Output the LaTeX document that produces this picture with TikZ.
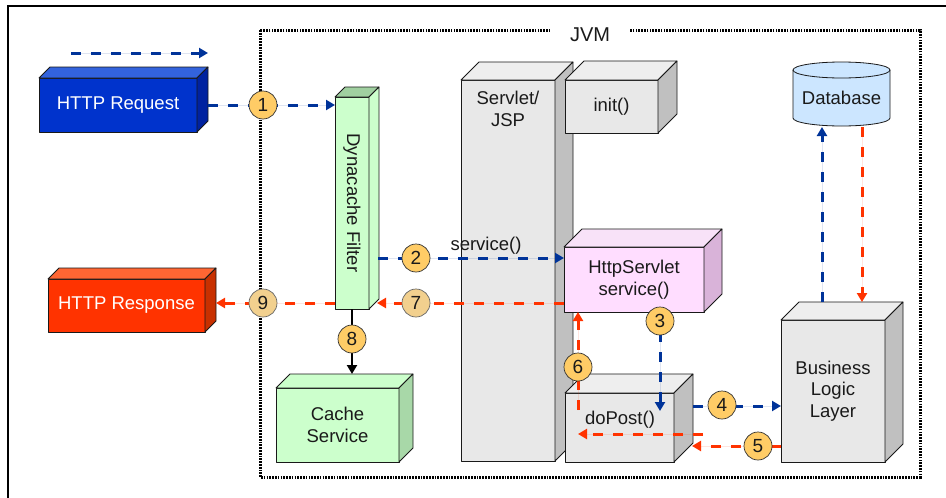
\documentclass[tikz,border=0pt]{standalone}
\usepackage{fontspec}
\setmainfont{Liberation Sans}
\usetikzlibrary{arrows.meta,calc}

\definecolor{txt}{HTML}{1A1A1A}
\definecolor{flowblue}{HTML}{003399}
\definecolor{flowred}{HTML}{FF3300}
\definecolor{numfill}{HTML}{FFCC66}
\definecolor{numpale}{HTML}{F2D08E}
\definecolor{reqfront}{HTML}{0033CC}
\definecolor{reqtop}{HTML}{3363DD}
\definecolor{reqside}{HTML}{0022A0}
\definecolor{resfront}{HTML}{FF3300}
\definecolor{restop}{HTML}{FF6633}
\definecolor{resside}{HTML}{C83000}
\definecolor{grnfront}{HTML}{CCFFCC}
\definecolor{grntop}{HTML}{A0D0A0}
\definecolor{grnside}{HTML}{A8D8A8}
\definecolor{gryfront}{HTML}{E8E8E8}
\definecolor{grytop}{HTML}{EEEEEE}
\definecolor{gryside}{HTML}{C0C0C0}
\definecolor{pnkfront}{HTML}{FFDDFF}
\definecolor{pnktop}{HTML}{F8E2F8}
\definecolor{pnkside}{HTML}{D9B3D9}
\definecolor{dbfill}{HTML}{CCE6FF}

% top and side faces of a box whose front face is node #1
\newcommand\boxfaces[4]{%
  \draw[edge, fill=#3] (#1.north west) -- ++(#2,-#2) -- ($(#1.north east)+(#2,-#2)$) -- (#1.north east) -- cycle;
  \draw[edge, fill=#4] (#1.north east) -- ++(#2,-#2) -- ($(#1.south east)+(#2,-#2)$) -- (#1.south east) -- cycle;
}

\begin{document}
\begin{tikzpicture}[x=1pt,y=-1pt,
  edge/.style={draw=black!90, line width=0.8pt, line join=round},
  face/.style={edge, rectangle, outer sep=0pt, inner sep=0pt, align=center, text=txt, font=\fontsize{18.5}{21.5}\selectfont},
  lbl/.style={align=center, text=txt, font=\fontsize{18.5}{21.5}\selectfont, inner sep=0pt},
  num/.style={circle, draw=black!80, line width=0.7pt, fill=numfill, minimum size=28pt, inner sep=0pt, text=txt, font=\fontsize{19}{19}\selectfont},
  flow/.style={line width=3pt, dash pattern=on 10pt off 10pt, -{Triangle[length=9pt,width=10pt]}},
  blueflow/.style={flow, draw=flowblue, fill=flowblue},
  redflow/.style={flow, draw=flowred, fill=flowred},
]
\useasboundingbox (0,0) rectangle (946,498);
\fill[white] (0,0) rectangle (946,498);

% outer frame
\draw[line width=1.5pt] (8,498) -- (8,6) -- (946,6);

% JVM container
\draw[line width=3pt, dash pattern=on 1.7pt off 1.1pt] (260,30) rectangle (920,477);
\node[lbl, fill=white, inner xsep=20pt, inner ysep=4pt, font=\fontsize{20}{20}\selectfont] (jvm) at (590,35) {JVM};

% Servlet / JSP column
\node[face, fill=gryfront, minimum width=94pt, minimum height=381pt] (srv) at (508,270.5) {};
\boxfaces{srv}{18}{grytop}{gryside}
\node[lbl] (srvlbl) at (508,109) {Servlet/\\JSP};

% init()
\node[face, fill=gryfront, minimum width=93pt, minimum height=53pt] (init) at (611.5,106.5) {init()};
\boxfaces{init}{19}{grytop}{gryside}

% HttpServlet service()
\node[face, fill=pnkfront, minimum width=140pt, minimum height=65pt] (http) at (634,279.5) {HttpServlet\\service()};
\boxfaces{http}{18}{pnktop}{pnkside}

% doPost()
\node[face, fill=gryfront, minimum width=109pt, minimum height=69pt] (dopost) at (619.5,427.5) {};
\boxfaces{dopost}{19}{grytop}{gryside}
\node[lbl] (dplbl) at (620,420) {doPost()};

% Business Logic Layer
\node[face, fill=gryfront, minimum width=104pt, minimum height=142pt] (biz) at (833,391) {Business\\Logic\\Layer};
\boxfaces{biz}{18}{grytop}{gryside}

% Dynacache Filter
\node[face, fill=grnfront, minimum width=34pt, minimum height=212pt] (dyn) at (352,203) {};
\boxfaces{dyn}{10}{grntop}{grnfront}
\node[lbl, rotate=-90] (dynlbl) at (352,203) {Dynacache Filter};

% Cache Service
\node[face, fill=grnfront, minimum width=123pt, minimum height=74pt] (cache) at (337.5,425) {Cache\\Service};
\boxfaces{cache}{14}{grnfront}{grnside}

% HTTP Request / HTTP Response
\node[face, fill=reqfront, text=white, minimum width=158pt, minimum height=54pt] (req) at (118,105) {HTTP Request};
\boxfaces{req}{11}{reqtop}{reqside}
\node[face, fill=resfront, text=white, minimum width=157pt, minimum height=53pt] (resp) at (126.5,305.5) {HTTP Response};
\boxfaces{resp}{11}{restop}{resside}

% Database cylinder
\draw[edge, fill=dbfill] (793,70) -- (793,118) arc[start angle=180, end angle=0, x radius=48.5, y radius=8] -- (890,70);
\draw[edge, fill=dbfill] (841.5,70) ellipse[x radius=48.5, y radius=8];
\node[lbl] (db) at (841.5,98) {Database};

% connector end points
\coordinate (legA) at (71,53);
\coordinate (legB) at (208,53);
\coordinate (a2) at (378,258);
\coordinate (a7) at (377,303);
\coordinate (a9) at (216,303);
\coordinate (a3) at (660,411);
\coordinate (a4) at (693,406);
\coordinate (a5) at (692,446);
\coordinate (p1) at (703,434);
\coordinate (p2) at (578,434);
\coordinate (a6) at (578,410);
\coordinate (cachetop) at ($(cache.north)+(0,-14)$);
\coordinate (bizup) at (822,302);
\coordinate (bizdn) at (862,302);
\coordinate (dbbase) at (841.5,127);

% flows
\draw[blueflow] (legA) -- (legB);
\draw[blueflow] ($(req.east)+(11,0)$) -- (dyn.west |- req.east);
\draw[blueflow] (a2) -- (http.west |- a2);
\draw[redflow] (http.west |- a7) -- (a7);
\draw[redflow] (dyn.west |- a7) -- (a9);
\draw[line width=2.5pt, draw=black, -{Triangle[length=9pt,width=10pt]}] (dyn.south) -- (dyn.south |- cachetop);
\draw[blueflow] (http.south -| a3) -- (a3);
\draw[blueflow] (a4) -- (biz.west |- a4);
\draw[redflow] (biz.west |- a5) -- (a5);
\draw[redflow] (p1) -- (p2);
\draw[redflow] (a6) -- (a6 |- http.south);
\draw[blueflow] (bizup) -- (bizup |- dbbase);
\draw[redflow] (bizdn |- dbbase) -- (bizdn);

% step numbers
\node[num] (n1) at (263,105) {1};
\node[num] (n2) at (416,258) {2};
\node[num] (n3) at (660,321) {3};
\node[num] (n4) at (722,405) {4};
\node[num] (n5) at (758,446) {5};
\node[num] (n6) at (578,367) {6};
\node[num, fill=numpale, draw=black!60] (n7) at (416,303) {7};
\node[num] (n8) at (352,339) {8};
\node[num, fill=numpale, draw=black!60] (n9) at (263,303) {9};

% method label on the service call
\node[lbl] (svc) at (486,246) {service()};
\end{tikzpicture}
\end{document}
